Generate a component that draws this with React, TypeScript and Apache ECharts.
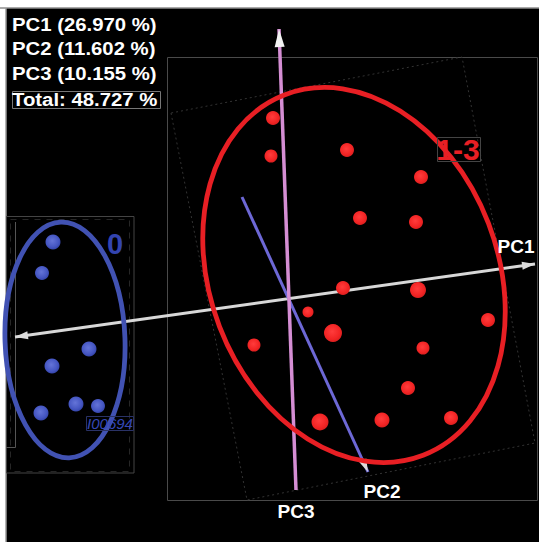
import React, { useEffect, useRef } from "react";
import * as echarts from "echarts";

// ---- data (projected 3D PCA scores) ----
const statLines = ["PC1 (26.970 %)", "PC2 (11.602 %)", "PC3 (10.155 %)", "Total: 48.727 %"];
const axisNames = ["PC1", "PC2", "PC3"];
const axisStart = [[15, 337], [242, 197], [296, 490]];
const axisEnd = [[535, 264], [368, 472], [279, 29]];
const groupNames = ["0", "1-3"];
// [projected x, projected y, depth-size]
const group0Points = [
  [53, 242, 15], [42, 273, 14], [89, 349, 15], [52, 366, 15],
  [41, 413, 15], [76, 404, 15], [98, 406, 14],
];
const group13Points = [
  [273, 118, 14], [271, 156, 13], [347, 150, 14], [421, 177, 14],
  [360, 218, 14], [416, 222, 14], [343, 288, 14], [418, 290, 16],
  [308, 312, 11], [488, 320, 14], [333, 333, 18], [254, 345, 13],
  [423, 348, 13], [408, 388, 14], [320, 422, 17], [382, 420, 15],
  [451, 418, 14],
];
// group ellipses: centre, radii, tilt (deg)
const ellipseCenter = [[65, 340], [354, 275]];
const ellipseRadii = [[60, 118], [144, 193]];
const ellipseTilt = [2, 21];
const sampleLabel = "I00694";

const W = 539;
const H = 542;
const FONT = "'Liberation Sans', Arial, sans-serif";
const axisColors = ["#d8d8d8", "#6d68d6", "#d58ed4"];
const axisWidths = [3, 3, 3.5];
// arrowheads: [axis index, at end (true) or at start (false)]
const arrowSpecs: [number, boolean][] = [[0, true], [0, false], [1, true], [2, true]];

export default function App() {
  const ref = useRef<HTMLDivElement>(null);
  useEffect(() => {
    if (!ref.current) return;
    const chart = echarts.init(ref.current, null, { renderer: "svg" });

    const axisSeries = axisNames.map((n, i) => ({
      type: "line",
      name: n,
      data: [axisStart[i], axisEnd[i]],
      showSymbol: false,
      symbol: "none",
      silent: true,
      lineStyle: { color: axisColors[i], width: axisWidths[i] },
      z: 3,
    }));

    const arrowData = arrowSpecs.map(([i, atEnd]) => {
      const tip = atEnd ? axisEnd[i] : axisStart[i];
      const other = atEnd ? axisStart[i] : axisEnd[i];
      const dx = tip[0] - other[0];
      const dy = tip[1] - other[1];
      const len = Math.hypot(dx, dy);
      const ux = dx / len, uy = dy / len;
      const hl = i === 2 ? 18 : 13;
      const rot = (Math.atan2(-dy, dx) * 180) / Math.PI - 90;
      return {
        value: [tip[0] - (ux * hl) / 2, tip[1] - (uy * hl) / 2],
        symbol: "triangle",
        symbolSize: [i === 2 ? 10 : 8, hl],
        symbolRotate: rot,
        itemStyle: { color: i === 2 ? "#f2f2f2" : "#dcdcdc", opacity: 1 },
      };
    });

    const redGrad = new echarts.graphic.RadialGradient(0.45, 0.42, 0.6, [
      { offset: 0, color: "#ff3c3c" },
      { offset: 0.7, color: "#f22424" },
      { offset: 1, color: "#d81f1f" },
    ]);
    const blueGrad = new echarts.graphic.RadialGradient(0.45, 0.42, 0.6, [
      { offset: 0, color: "#6474d8" },
      { offset: 0.7, color: "#4556c2" },
      { offset: 1, color: "#3343a8" },
    ]);

    chart.setOption({
      animation: false,
      backgroundColor: "#ffffff",
      grid: { left: 0, right: 0, top: 0, bottom: 0 },
      xAxis: { type: "value", min: 0, max: W, show: false },
      yAxis: { type: "value", min: 0, max: H, inverse: true, show: false },
      series: [
        ...axisSeries,
        {
          type: "scatter",
          name: "arrows",
          data: arrowData,
          silent: true,
          itemStyle: { opacity: 1 },
          z: 4,
        },
        {
          type: "scatter",
          name: groupNames[0],
          data: group0Points,
          symbolSize: (v: number[]) => v[2],
          itemStyle: { color: blueGrad, opacity: 1 },
          z: 5,
        },
        {
          type: "scatter",
          name: groupNames[1],
          data: group13Points,
          symbolSize: (v: number[]) => v[2],
          itemStyle: { color: redGrad, opacity: 1 },
          z: 5,
        },
      ],
    });

    const ellColors = ["#4152b3", "#e81f24"];
    const ellipses = ellipseCenter.map((c, i) => {
      const p = chart.convertToPixel({ gridIndex: 0 }, c) as number[];
      return {
        type: "ellipse",
        x: p[0],
        y: p[1],
        rotation: (ellipseTilt[i] * Math.PI) / 180,
        shape: { cx: 0, cy: 0, rx: ellipseRadii[i][0], ry: ellipseRadii[i][1] },
        style: { fill: "none", stroke: ellColors[i], lineWidth: 4.8 },
        silent: true,
        z: 10,
      };
    });

    const statY = [24.5, 48.5, 74, 99.5];
    const statTexts = statLines.map((s, i) => ({
      type: "text",
      x: 12,
      y: statY[i],
      scaleX: 1.13,
      style: {
        text: s,
        fill: "#ffffff",
        font: `bold 18px ${FONT}`,
        textVerticalAlign: "middle",
      },
      z: 20,
    }));

    const labelPos = [[516, 246], [382, 491], [296, 511]];
    const axisLabels = axisNames.map((n, i) => ({
      type: "text",
      x: labelPos[i][0],
      y: labelPos[i][1],
      style: {
        text: n,
        fill: "#ffffff",
        font: `bold 19px ${FONT}`,
        textAlign: "center",
        textVerticalAlign: "middle",
      },
      z: 20,
    }));

    chart.setOption({
      graphic: [
        { type: "rect", shape: { x: 6, y: 8, width: W - 6, height: H - 8 }, style: { fill: "#000000" }, z: -10, silent: true },
        { type: "line", shape: { x1: 0, y1: 8, x2: W, y2: 8 }, style: { stroke: "#8c8c8c", lineWidth: 1.5 }, z: -9 },
        { type: "line", shape: { x1: 6, y1: 8, x2: 6, y2: H }, style: { stroke: "#9a9a9a", lineWidth: 1.5 }, z: -9 },
        { type: "rect", shape: { x: 167.5, y: 57.5, width: 370, height: 443 }, style: { fill: "none", stroke: "#4a4a4a", lineWidth: 1 }, z: -9 },
        { type: "polygon", shape: { points: [[171, 113], [247, 500], [535, 443], [462, 57]] }, style: { fill: "none", stroke: "#333333", lineWidth: 1, lineDash: [2, 3] }, z: -9 },
        { type: "rect", shape: { x: 6.5, y: 216.5, width: 127.5, height: 256.5 }, style: { fill: "none", stroke: "#444444", lineWidth: 1 }, z: -9 },
        { type: "polyline", shape: { points: [[6, 447.5], [15.5, 447.5], [15.5, 222]] }, style: { fill: "none", stroke: "#555555", lineWidth: 1 }, z: -9 },
        { type: "rect", shape: { x: 10.5, y: 219.5, width: 119, height: 252 }, style: { fill: "none", stroke: "#262626", lineWidth: 1, lineDash: [6, 6] }, z: -9 },
        ...ellipses,
        ...statTexts,
        { type: "rect", shape: { x: 12.5, y: 91.5, width: 148, height: 17 }, style: { fill: "none", stroke: "#777777", lineWidth: 1 }, z: 19 },
        ...axisLabels,
        {
          type: "text", x: 458, y: 149,
          style: { text: groupNames[1], fill: "#e81f24", font: `bold 30px ${FONT}`, textAlign: "center", textVerticalAlign: "middle" },
          z: 20,
        },
        { type: "rect", shape: { x: 437.5, y: 137.5, width: 43, height: 24 }, style: { fill: "none", stroke: "#444444", lineWidth: 1 }, z: 19 },
        {
          type: "text", x: 115, y: 244,
          style: { text: groupNames[0], fill: "#3344b0", font: `bold 29px ${FONT}`, textAlign: "center", textVerticalAlign: "middle" },
          z: 20,
        },
        {
          type: "text", x: 110, y: 423,
          style: { text: sampleLabel, fill: "#3547b5", font: `italic 15px ${FONT}`, textAlign: "center", textVerticalAlign: "middle" },
          z: 20,
        },
        { type: "rect", shape: { x: 86.5, y: 416.5, width: 47, height: 14 }, style: { fill: "none", stroke: "#2a3266", lineWidth: 1 }, z: 19 },
      ],
    });

    return () => chart.dispose();
  }, []);

  return (
    <div
      ref={ref}
      style={{ position: "fixed", left: 0, top: 0, width: W, height: H }}
    />
  );
}
